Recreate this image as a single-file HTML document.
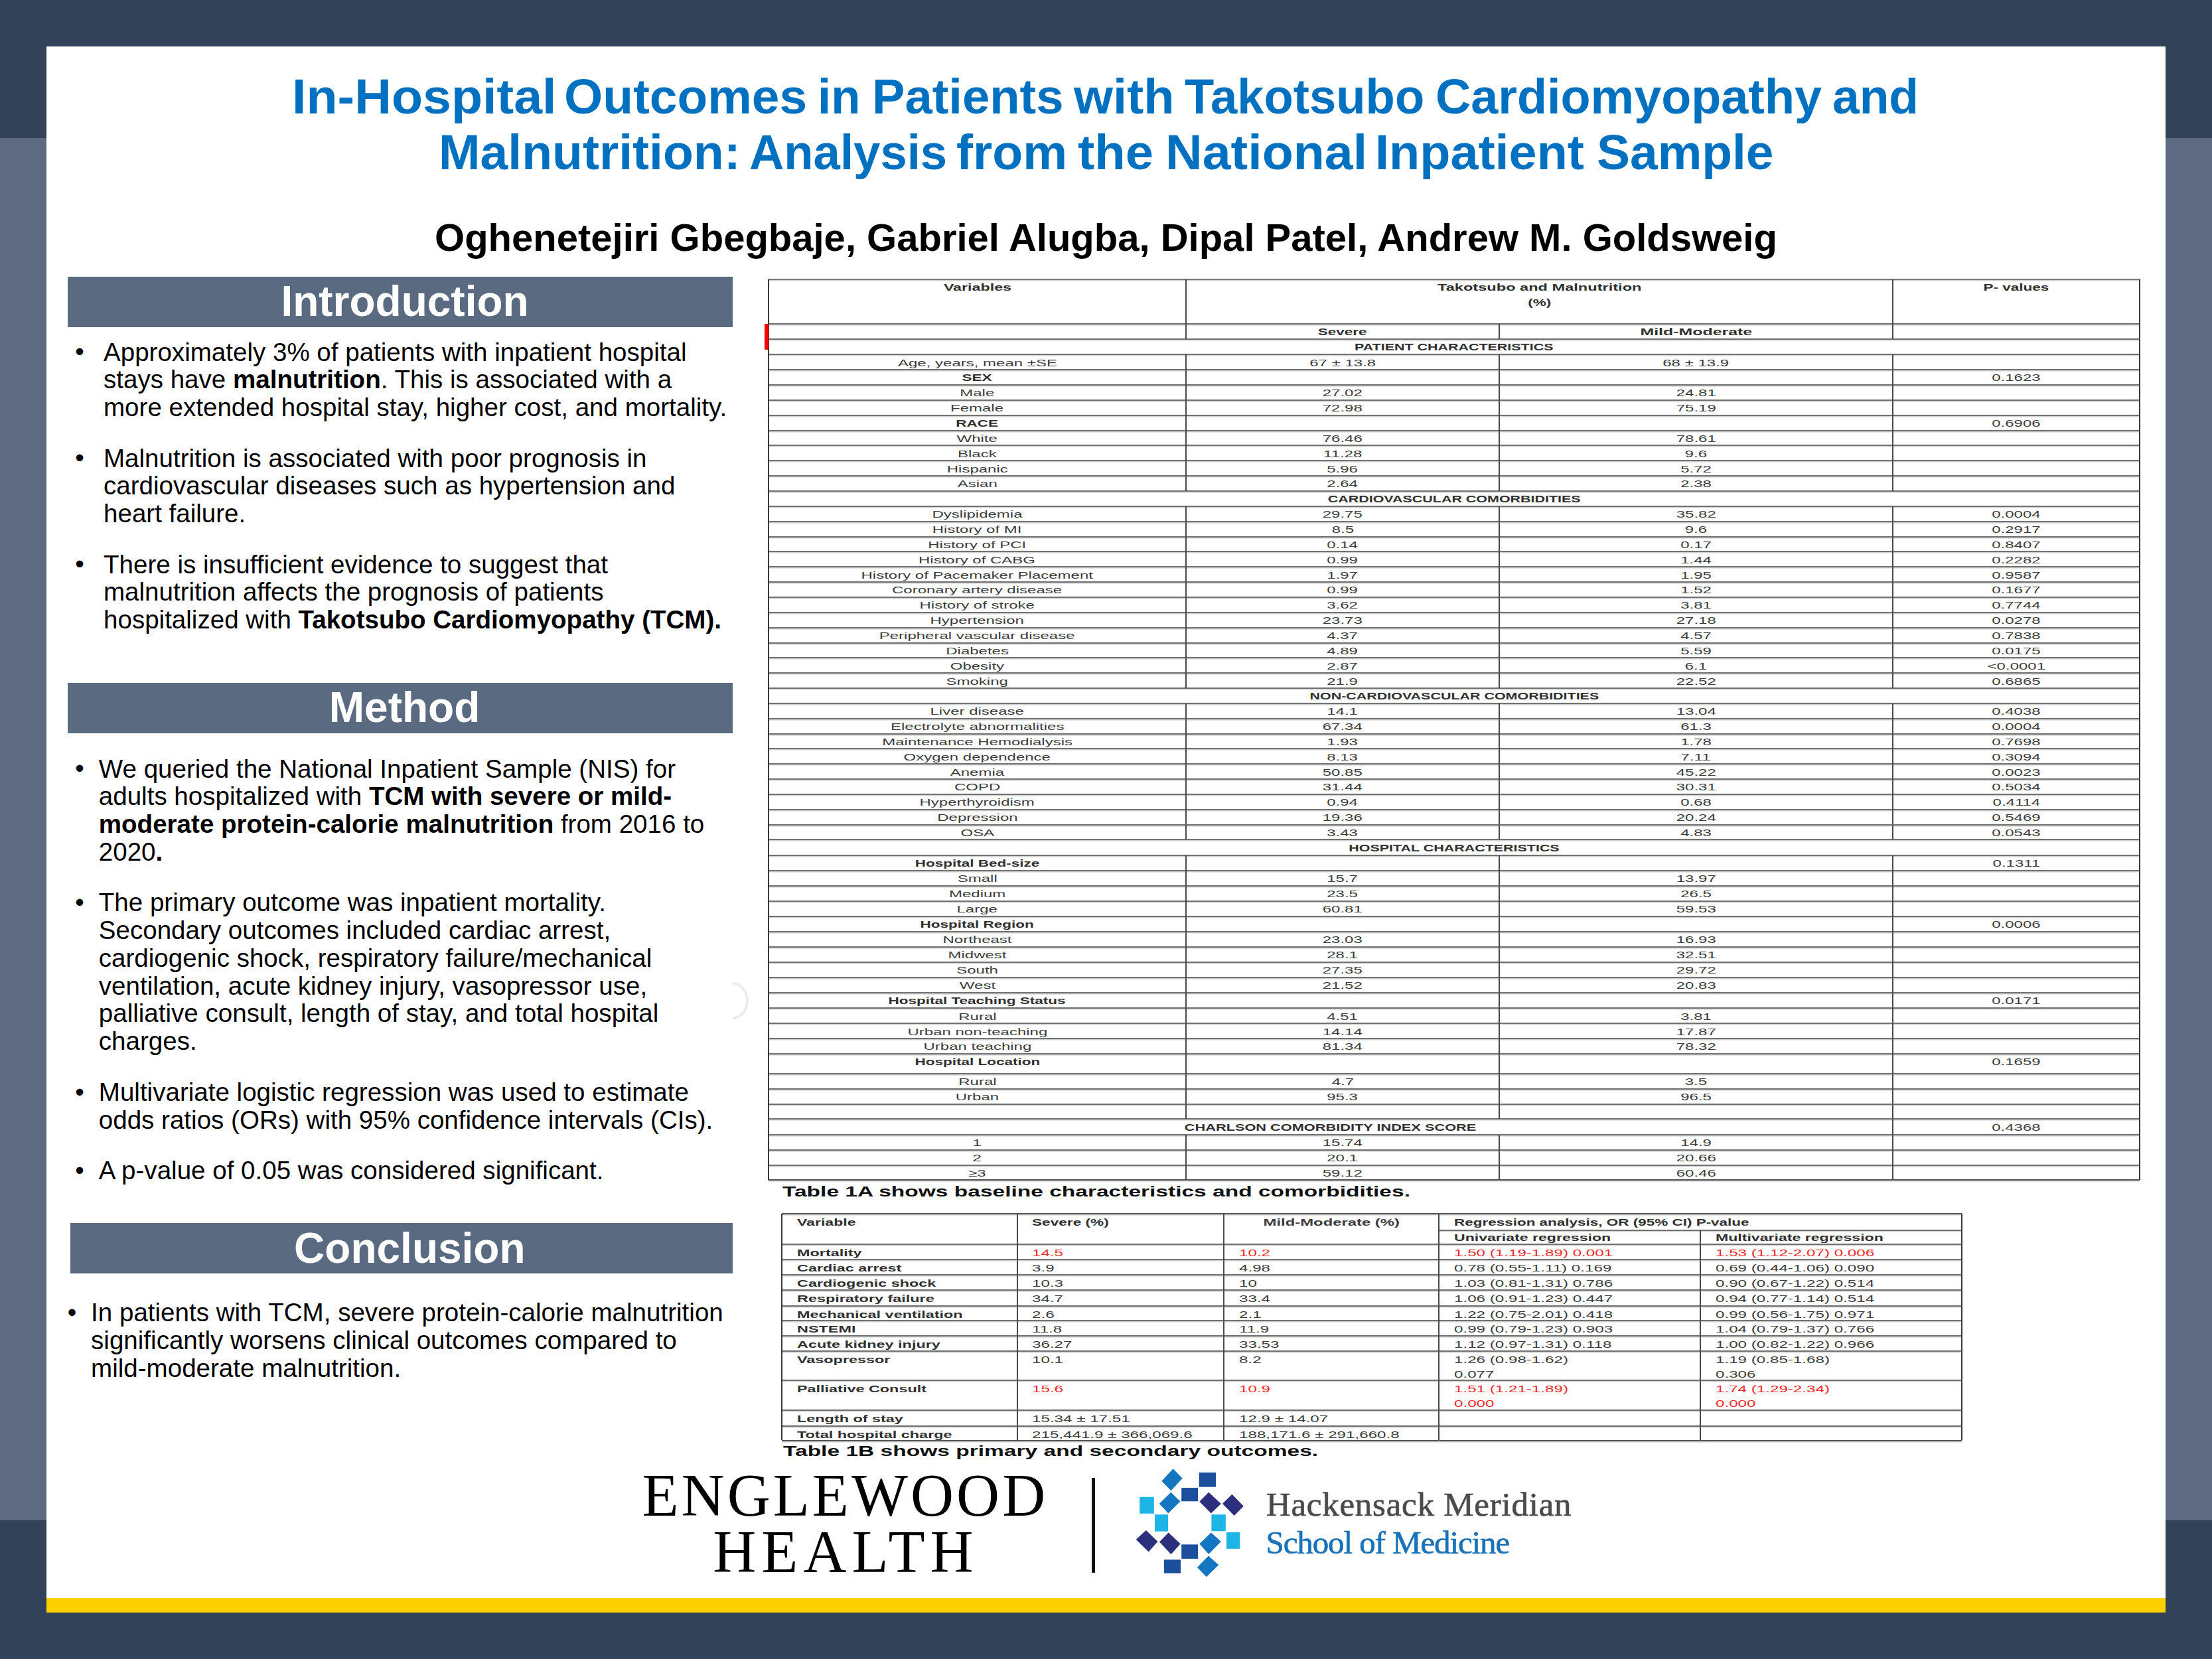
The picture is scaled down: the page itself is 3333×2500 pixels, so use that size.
<!DOCTYPE html><html><head><meta charset="utf-8"><title>Poster</title><style>
*{margin:0;padding:0;box-sizing:border-box}
html,body{width:3333px;height:2500px;overflow:hidden}
body{background:#324258;position:relative;font-family:"Liberation Sans",Arial,sans-serif;color:#000}
.a{position:absolute}
.t{position:absolute;white-space:nowrap}
.bar{position:absolute;background:#596a81}
.bh{position:absolute;white-space:nowrap;color:#fff;font-weight:700;font-size:63.5px;line-height:1}
.body{position:absolute;white-space:nowrap;font-size:38.55px;line-height:41.8px;color:#000}
.bul{position:absolute;font-size:38.4px;line-height:1;color:#000}
.tc{position:absolute;white-space:nowrap;font-size:15px;line-height:1;color:#3c3c3c}
.hl{position:absolute;background:#6a6a6a;height:2px}
.vl{position:absolute;background:#4a4a4a;width:2px}
</style></head><body>
<div class="a" style="left:0;top:208px;width:3333px;height:2083px;background:#5d6a82"></div>
<div class="a" style="left:70px;top:70px;width:3193px;height:2338px;background:#fff"></div>
<div class="a" style="left:70px;top:2408px;width:3193px;height:22px;background:#fdd000"></div>
<div class="t" style="left:440.4px;top:108.8px;font-size:73.5px;line-height:1;color:#0070c0;font-weight:700;transform-origin:0 0;transform:scaleX(1.0493)">In-Hospital</div>
<div class="t" style="left:849.6px;top:108.8px;font-size:73.5px;line-height:1;color:#0070c0;font-weight:700;transform-origin:0 0;transform:scaleX(1.0184)">Outcomes</div>
<div class="t" style="left:1231.9px;top:108.8px;font-size:73.5px;line-height:1;color:#0070c0;font-weight:700;transform-origin:0 0;transform:scaleX(0.9857)">in</div>
<div class="t" style="left:1313.9px;top:108.8px;font-size:73.5px;line-height:1;color:#0070c0;font-weight:700;transform-origin:0 0;transform:scaleX(1.0086)">Patients</div>
<div class="t" style="left:1618.3px;top:108.8px;font-size:73.5px;line-height:1;color:#0070c0;font-weight:700;transform-origin:0 0;transform:scaleX(1.0317)">with</div>
<div class="t" style="left:1784.9px;top:108.8px;font-size:73.5px;line-height:1;color:#0070c0;font-weight:700;transform-origin:0 0;transform:scaleX(0.9865)">Takotsubo</div>
<div class="t" style="left:2162.9px;top:108.8px;font-size:73.5px;line-height:1;color:#0070c0;font-weight:700;transform-origin:0 0;transform:scaleX(1.0035)">Cardiomyopathy</div>
<div class="t" style="left:2761.3px;top:108.8px;font-size:73.5px;line-height:1;color:#0070c0;font-weight:700;transform-origin:0 0;transform:scaleX(0.9952)">and</div>
<div class="t" style="left:660.6px;top:192.8px;font-size:73.5px;line-height:1;color:#0070c0;font-weight:700;transform-origin:0 0;transform:scaleX(1.0217)">Malnutrition:</div>
<div class="t" style="left:1129.2px;top:192.8px;font-size:73.5px;line-height:1;color:#0070c0;font-weight:700;transform-origin:0 0;transform:scaleX(0.9862)">Analysis</div>
<div class="t" style="left:1441.3px;top:192.8px;font-size:73.5px;line-height:1;color:#0070c0;font-weight:700;transform-origin:0 0;transform:scaleX(1.0234)">from</div>
<div class="t" style="left:1623.8px;top:192.8px;font-size:73.5px;line-height:1;color:#0070c0;font-weight:700;transform-origin:0 0;transform:scaleX(1.0346)">the</div>
<div class="t" style="left:1755.6px;top:192.8px;font-size:73.5px;line-height:1;color:#0070c0;font-weight:700;transform-origin:0 0;transform:scaleX(1.0489)">National</div>
<div class="t" style="left:2072.0px;top:192.8px;font-size:73.5px;line-height:1;color:#0070c0;font-weight:700;transform-origin:0 0;transform:scaleX(1.0287)">Inpatient</div>
<div class="t" style="left:2406.0px;top:192.8px;font-size:73.5px;line-height:1;color:#0070c0;font-weight:700;transform-origin:0 0;transform:scaleX(1.0195)">Sample</div>
<div class="t" style="left:-333.5px;width:4000px;text-align:center;top:329.4px;font-size:58px;line-height:1;font-weight:700;">Oghenetejiri Gbegbaje, Gabriel Alugba, Dipal Patel, Andrew M. Goldsweig</div>
<div class="bar" style="left:102px;top:417px;width:1002px;height:76px"></div>
<div class="t" style="left:-1390.0px;width:4000px;text-align:center;top:421.8px;font-size:64px;line-height:1;color:#fff;font-weight:700;">Introduction</div>
<div class="bar" style="left:102px;top:1028.5px;width:1002px;height:76.5px"></div>
<div class="t" style="left:-1390.5px;width:4000px;text-align:center;top:1033.6px;font-size:64px;line-height:1;color:#fff;font-weight:700;">Method</div>
<div class="bar" style="left:106px;top:1843.4px;width:998px;height:76.0px"></div>
<div class="t" style="left:-1382.7px;width:4000px;text-align:center;top:1848.6px;font-size:64px;line-height:1;color:#fff;font-weight:700;">Conclusion</div>
<div class="t" style="left:113.2px;top:511.4px;font-size:38.55px;line-height:1;">&#8226;</div>
<div class="body" style="left:156px;top:509.7px">Approximately 3% of patients with inpatient hospital<br>stays have <b>malnutrition</b>. This is associated with a<br>more extended hospital stay, higher cost, and mortality.</div>
<div class="t" style="left:113.2px;top:671.2px;font-size:38.55px;line-height:1;">&#8226;</div>
<div class="body" style="left:156px;top:669.5px">Malnutrition is associated with poor prognosis in<br>cardiovascular diseases such as hypertension and<br>heart failure.</div>
<div class="t" style="left:113.2px;top:831.2px;font-size:38.55px;line-height:1;">&#8226;</div>
<div class="body" style="left:156px;top:829.5px">There is insufficient evidence to suggest that<br>malnutrition affects the prognosis of patients<br>hospitalized with <b>Takotsubo Cardiomyopathy (TCM).</b></div>
<div class="t" style="left:113.2px;top:1139.2px;font-size:38.55px;line-height:1;">&#8226;</div>
<div class="body" style="left:148.8px;top:1137.5px">We queried the National Inpatient Sample (NIS) for<br>adults hospitalized with <b>TCM with severe or mild-</b><br><b>moderate protein-calorie malnutrition</b> from 2016 to<br>2020<b>.</b></div>
<div class="t" style="left:113.2px;top:1341.0px;font-size:38.55px;line-height:1;">&#8226;</div>
<div class="body" style="left:148.8px;top:1339.3px">The primary outcome was inpatient mortality.<br>Secondary outcomes included cardiac arrest,<br>cardiogenic shock, respiratory failure/mechanical<br>ventilation, acute kidney injury, vasopressor use,<br>palliative consult, length of stay, and total hospital<br>charges.</div>
<div class="t" style="left:113.2px;top:1626.6px;font-size:38.55px;line-height:1;">&#8226;</div>
<div class="body" style="left:148.8px;top:1624.9px">Multivariate logistic regression was used to estimate<br>odds ratios (ORs) with 95% confidence intervals (CIs).</div>
<div class="t" style="left:113.2px;top:1744.8px;font-size:38.55px;line-height:1;">&#8226;</div>
<div class="body" style="left:148.8px;top:1743.1px">A p-value of 0.05 was considered significant.</div>
<div class="t" style="left:101.8px;top:1958.9px;font-size:38.55px;line-height:1;">&#8226;</div>
<div class="body" style="left:137.1px;top:1957.2px">In patients with TCM, severe protein-calorie malnutrition<br>significantly worsens clinical outcomes compared to<br>mild-moderate malnutrition.</div>
<svg class="a" style="left:1095px;top:1475px" width="40" height="66" viewBox="0 0 40 66"><path d="M9 7 A 22 26 0 0 1 9 59" fill="none" stroke="#ebebeb" stroke-width="3.5"/></svg>
<div class="a" style="left:1158.0px;top:420.0px;width:2066.0px;height:2px;background:#7a7a7a;box-shadow:0 1.5px 0 #cfcfcf"></div>
<div class="a" style="left:1158.0px;top:487.0px;width:2066.0px;height:2px;background:#727272;box-shadow:0 1.5px 0 #cfcfcf"></div>
<div class="a" style="left:1158.0px;top:510.0px;width:2066.0px;height:2px;background:#727272;box-shadow:0 1.5px 0 #cfcfcf"></div>
<div class="a" style="left:1158.0px;top:533.0px;width:2066.0px;height:2px;background:#727272;box-shadow:0 1.5px 0 #cfcfcf"></div>
<div class="a" style="left:1158.0px;top:556.1px;width:2066.0px;height:2px;background:#727272;box-shadow:0 1.5px 0 #cfcfcf"></div>
<div class="a" style="left:1158.0px;top:579.0px;width:2066.0px;height:2px;background:#727272;box-shadow:0 1.5px 0 #cfcfcf"></div>
<div class="a" style="left:1158.0px;top:601.8px;width:2066.0px;height:2px;background:#727272;box-shadow:0 1.5px 0 #cfcfcf"></div>
<div class="a" style="left:1158.0px;top:624.7px;width:2066.0px;height:2px;background:#727272;box-shadow:0 1.5px 0 #cfcfcf"></div>
<div class="a" style="left:1158.0px;top:647.5px;width:2066.0px;height:2px;background:#727272;box-shadow:0 1.5px 0 #cfcfcf"></div>
<div class="a" style="left:1158.0px;top:670.4px;width:2066.0px;height:2px;background:#727272;box-shadow:0 1.5px 0 #cfcfcf"></div>
<div class="a" style="left:1158.0px;top:693.2px;width:2066.0px;height:2px;background:#727272;box-shadow:0 1.5px 0 #cfcfcf"></div>
<div class="a" style="left:1158.0px;top:716.1px;width:2066.0px;height:2px;background:#727272;box-shadow:0 1.5px 0 #cfcfcf"></div>
<div class="a" style="left:1158.0px;top:739.0px;width:2066.0px;height:2px;background:#727272;box-shadow:0 1.5px 0 #cfcfcf"></div>
<div class="a" style="left:1158.0px;top:761.8px;width:2066.0px;height:2px;background:#727272;box-shadow:0 1.5px 0 #cfcfcf"></div>
<div class="a" style="left:1158.0px;top:784.7px;width:2066.0px;height:2px;background:#727272;box-shadow:0 1.5px 0 #cfcfcf"></div>
<div class="a" style="left:1158.0px;top:807.5px;width:2066.0px;height:2px;background:#727272;box-shadow:0 1.5px 0 #cfcfcf"></div>
<div class="a" style="left:1158.0px;top:830.4px;width:2066.0px;height:2px;background:#727272;box-shadow:0 1.5px 0 #cfcfcf"></div>
<div class="a" style="left:1158.0px;top:853.2px;width:2066.0px;height:2px;background:#727272;box-shadow:0 1.5px 0 #cfcfcf"></div>
<div class="a" style="left:1158.0px;top:876.1px;width:2066.0px;height:2px;background:#727272;box-shadow:0 1.5px 0 #cfcfcf"></div>
<div class="a" style="left:1158.0px;top:899.0px;width:2066.0px;height:2px;background:#727272;box-shadow:0 1.5px 0 #cfcfcf"></div>
<div class="a" style="left:1158.0px;top:921.8px;width:2066.0px;height:2px;background:#727272;box-shadow:0 1.5px 0 #cfcfcf"></div>
<div class="a" style="left:1158.0px;top:944.7px;width:2066.0px;height:2px;background:#727272;box-shadow:0 1.5px 0 #cfcfcf"></div>
<div class="a" style="left:1158.0px;top:967.5px;width:2066.0px;height:2px;background:#727272;box-shadow:0 1.5px 0 #cfcfcf"></div>
<div class="a" style="left:1158.0px;top:990.4px;width:2066.0px;height:2px;background:#727272;box-shadow:0 1.5px 0 #cfcfcf"></div>
<div class="a" style="left:1158.0px;top:1013.2px;width:2066.0px;height:2px;background:#727272;box-shadow:0 1.5px 0 #cfcfcf"></div>
<div class="a" style="left:1158.0px;top:1036.1px;width:2066.0px;height:2px;background:#727272;box-shadow:0 1.5px 0 #cfcfcf"></div>
<div class="a" style="left:1158.0px;top:1058.9px;width:2066.0px;height:2px;background:#727272;box-shadow:0 1.5px 0 #cfcfcf"></div>
<div class="a" style="left:1158.0px;top:1081.8px;width:2066.0px;height:2px;background:#727272;box-shadow:0 1.5px 0 #cfcfcf"></div>
<div class="a" style="left:1158.0px;top:1104.6px;width:2066.0px;height:2px;background:#727272;box-shadow:0 1.5px 0 #cfcfcf"></div>
<div class="a" style="left:1158.0px;top:1127.4px;width:2066.0px;height:2px;background:#727272;box-shadow:0 1.5px 0 #cfcfcf"></div>
<div class="a" style="left:1158.0px;top:1150.2px;width:2066.0px;height:2px;background:#727272;box-shadow:0 1.5px 0 #cfcfcf"></div>
<div class="a" style="left:1158.0px;top:1173.1px;width:2066.0px;height:2px;background:#727272;box-shadow:0 1.5px 0 #cfcfcf"></div>
<div class="a" style="left:1158.0px;top:1195.9px;width:2066.0px;height:2px;background:#727272;box-shadow:0 1.5px 0 #cfcfcf"></div>
<div class="a" style="left:1158.0px;top:1218.7px;width:2066.0px;height:2px;background:#727272;box-shadow:0 1.5px 0 #cfcfcf"></div>
<div class="a" style="left:1158.0px;top:1241.6px;width:2066.0px;height:2px;background:#727272;box-shadow:0 1.5px 0 #cfcfcf"></div>
<div class="a" style="left:1158.0px;top:1264.4px;width:2066.0px;height:2px;background:#727272;box-shadow:0 1.5px 0 #cfcfcf"></div>
<div class="a" style="left:1158.0px;top:1287.5px;width:2066.0px;height:2px;background:#727272;box-shadow:0 1.5px 0 #cfcfcf"></div>
<div class="a" style="left:1158.0px;top:1310.5px;width:2066.0px;height:2px;background:#727272;box-shadow:0 1.5px 0 #cfcfcf"></div>
<div class="a" style="left:1158.0px;top:1333.6px;width:2066.0px;height:2px;background:#727272;box-shadow:0 1.5px 0 #cfcfcf"></div>
<div class="a" style="left:1158.0px;top:1356.6px;width:2066.0px;height:2px;background:#727272;box-shadow:0 1.5px 0 #cfcfcf"></div>
<div class="a" style="left:1158.0px;top:1379.7px;width:2066.0px;height:2px;background:#727272;box-shadow:0 1.5px 0 #cfcfcf"></div>
<div class="a" style="left:1158.0px;top:1402.8px;width:2066.0px;height:2px;background:#727272;box-shadow:0 1.5px 0 #cfcfcf"></div>
<div class="a" style="left:1158.0px;top:1425.8px;width:2066.0px;height:2px;background:#727272;box-shadow:0 1.5px 0 #cfcfcf"></div>
<div class="a" style="left:1158.0px;top:1448.9px;width:2066.0px;height:2px;background:#727272;box-shadow:0 1.5px 0 #cfcfcf"></div>
<div class="a" style="left:1158.0px;top:1471.9px;width:2066.0px;height:2px;background:#727272;box-shadow:0 1.5px 0 #cfcfcf"></div>
<div class="a" style="left:1158.0px;top:1495.0px;width:2066.0px;height:2px;background:#727272;box-shadow:0 1.5px 0 #cfcfcf"></div>
<div class="a" style="left:1158.0px;top:1518.0px;width:2066.0px;height:2px;background:#727272;box-shadow:0 1.5px 0 #cfcfcf"></div>
<div class="a" style="left:1158.0px;top:1541.1px;width:2066.0px;height:2px;background:#727272;box-shadow:0 1.5px 0 #cfcfcf"></div>
<div class="a" style="left:1158.0px;top:1564.0px;width:2066.0px;height:2px;background:#727272;box-shadow:0 1.5px 0 #cfcfcf"></div>
<div class="a" style="left:1158.0px;top:1586.9px;width:2066.0px;height:2px;background:#727272;box-shadow:0 1.5px 0 #cfcfcf"></div>
<div class="a" style="left:1158.0px;top:1616.7px;width:2066.0px;height:2px;background:#727272;box-shadow:0 1.5px 0 #cfcfcf"></div>
<div class="a" style="left:1158.0px;top:1639.6px;width:2066.0px;height:2px;background:#727272;box-shadow:0 1.5px 0 #cfcfcf"></div>
<div class="a" style="left:1158.0px;top:1662.5px;width:2066.0px;height:2px;background:#727272;box-shadow:0 1.5px 0 #cfcfcf"></div>
<div class="a" style="left:1158.0px;top:1685.4px;width:2066.0px;height:2px;background:#727272;box-shadow:0 1.5px 0 #cfcfcf"></div>
<div class="a" style="left:1158.0px;top:1708.7px;width:2066.0px;height:2px;background:#727272;box-shadow:0 1.5px 0 #cfcfcf"></div>
<div class="a" style="left:1158.0px;top:1731.6px;width:2066.0px;height:2px;background:#727272;box-shadow:0 1.5px 0 #cfcfcf"></div>
<div class="a" style="left:1158.0px;top:1755.0px;width:2066.0px;height:2px;background:#727272;box-shadow:0 1.5px 0 #cfcfcf"></div>
<div class="a" style="left:1158.0px;top:1777.4px;width:2066.0px;height:2px;background:#555;box-shadow:0 1.5px 0 #cfcfcf"></div>
<div class="tc" style="left:1072.5px;width:800px;text-align:center;top:425.4px;font-size:15px;font-weight:700;color:#303030;"><span style="display:inline-block;transform:scaleX(1.55)">Variables</span></div>
<div class="tc" style="left:1919.5px;width:800px;text-align:center;top:425.4px;font-size:15px;font-weight:700;color:#303030;"><span style="display:inline-block;transform:scaleX(1.572)">Takotsubo and Malnutrition</span></div>
<div class="tc" style="left:1919.5px;width:800px;text-align:center;top:448.3px;font-size:15px;font-weight:700;color:#303030;"><span style="display:inline-block;transform:scaleX(1.5)">(%)</span></div>
<div class="tc" style="left:2638.0px;width:800px;text-align:center;top:425.4px;font-size:15px;font-weight:700;color:#303030;"><span style="display:inline-block;transform:scaleX(1.5)">P- values</span></div>
<div class="a" style="left:1786.0px;top:421.0px;width:2px;height:67.0px;background:#4a4a4a"></div>
<div class="a" style="left:2851.0px;top:421.0px;width:2px;height:67.0px;background:#4a4a4a"></div>
<div class="a" style="left:1786.0px;top:488.0px;width:2px;height:23.0px;background:#4a4a4a"></div>
<div class="a" style="left:2258.0px;top:488.0px;width:2px;height:23.0px;background:#4a4a4a"></div>
<div class="a" style="left:2851.0px;top:488.0px;width:2px;height:23.0px;background:#4a4a4a"></div>
<div class="tc" style="left:1072.5px;width:800px;text-align:center;top:492.4px;font-size:15px;font-weight:700;color:#303030;"><span style="display:inline-block;transform:scaleX(1.5)"></span></div>
<div class="tc" style="left:1623.0px;width:800px;text-align:center;top:492.4px;font-size:15px;font-weight:700;color:#303030;"><span style="display:inline-block;transform:scaleX(1.5)">Severe</span></div>
<div class="tc" style="left:2155.5px;width:800px;text-align:center;top:492.4px;font-size:15px;font-weight:700;color:#303030;"><span style="display:inline-block;transform:scaleX(1.66)">Mild-Moderate</span></div>
<div class="tc" style="left:1791.0px;width:800px;text-align:center;top:515.4px;font-size:15px;font-weight:700;color:#303030;"><span style="display:inline-block;transform:scaleX(1.43)">PATIENT CHARACTERISTICS</span></div>
<div class="a" style="left:1786.0px;top:534.0px;width:2px;height:23.1px;background:#4a4a4a"></div>
<div class="a" style="left:2258.0px;top:534.0px;width:2px;height:23.1px;background:#4a4a4a"></div>
<div class="a" style="left:2851.0px;top:534.0px;width:2px;height:23.1px;background:#4a4a4a"></div>
<div class="tc" style="left:1072.5px;width:800px;text-align:center;top:538.5px;font-size:15px;"><span style="display:inline-block;transform:scaleX(1.6)">Age, years, mean &#177;SE</span></div>
<div class="tc" style="left:1623.0px;width:800px;text-align:center;top:538.5px;font-size:15px;"><span style="display:inline-block;transform:scaleX(1.6)">67 &#177; 13.8</span></div>
<div class="tc" style="left:2155.5px;width:800px;text-align:center;top:538.5px;font-size:15px;"><span style="display:inline-block;transform:scaleX(1.6)">68 &#177; 13.9</span></div>
<div class="a" style="left:1786.0px;top:557.1px;width:2px;height:22.9px;background:#4a4a4a"></div>
<div class="a" style="left:2258.0px;top:557.1px;width:2px;height:22.9px;background:#4a4a4a"></div>
<div class="a" style="left:2851.0px;top:557.1px;width:2px;height:22.9px;background:#4a4a4a"></div>
<div class="tc" style="left:1072.5px;width:800px;text-align:center;top:561.4px;font-size:15px;font-weight:700;color:#303030;"><span style="display:inline-block;transform:scaleX(1.5)">SEX</span></div>
<div class="tc" style="left:2638.0px;width:800px;text-align:center;top:561.4px;font-size:15px;"><span style="display:inline-block;transform:scaleX(1.6)">0.1623</span></div>
<div class="a" style="left:1786.0px;top:580.0px;width:2px;height:22.9px;background:#4a4a4a"></div>
<div class="a" style="left:2258.0px;top:580.0px;width:2px;height:22.9px;background:#4a4a4a"></div>
<div class="a" style="left:2851.0px;top:580.0px;width:2px;height:22.9px;background:#4a4a4a"></div>
<div class="tc" style="left:1072.5px;width:800px;text-align:center;top:584.3px;font-size:15px;"><span style="display:inline-block;transform:scaleX(1.6)">Male</span></div>
<div class="tc" style="left:1623.0px;width:800px;text-align:center;top:584.3px;font-size:15px;"><span style="display:inline-block;transform:scaleX(1.6)">27.02</span></div>
<div class="tc" style="left:2155.5px;width:800px;text-align:center;top:584.3px;font-size:15px;"><span style="display:inline-block;transform:scaleX(1.6)">24.81</span></div>
<div class="a" style="left:1786.0px;top:602.8px;width:2px;height:22.9px;background:#4a4a4a"></div>
<div class="a" style="left:2258.0px;top:602.8px;width:2px;height:22.9px;background:#4a4a4a"></div>
<div class="a" style="left:2851.0px;top:602.8px;width:2px;height:22.9px;background:#4a4a4a"></div>
<div class="tc" style="left:1072.5px;width:800px;text-align:center;top:607.1px;font-size:15px;"><span style="display:inline-block;transform:scaleX(1.6)">Female</span></div>
<div class="tc" style="left:1623.0px;width:800px;text-align:center;top:607.1px;font-size:15px;"><span style="display:inline-block;transform:scaleX(1.6)">72.98</span></div>
<div class="tc" style="left:2155.5px;width:800px;text-align:center;top:607.1px;font-size:15px;"><span style="display:inline-block;transform:scaleX(1.6)">75.19</span></div>
<div class="a" style="left:1786.0px;top:625.7px;width:2px;height:22.9px;background:#4a4a4a"></div>
<div class="a" style="left:2258.0px;top:625.7px;width:2px;height:22.9px;background:#4a4a4a"></div>
<div class="a" style="left:2851.0px;top:625.7px;width:2px;height:22.9px;background:#4a4a4a"></div>
<div class="tc" style="left:1072.5px;width:800px;text-align:center;top:630.0px;font-size:15px;font-weight:700;color:#303030;"><span style="display:inline-block;transform:scaleX(1.5)">RACE</span></div>
<div class="tc" style="left:2638.0px;width:800px;text-align:center;top:630.0px;font-size:15px;"><span style="display:inline-block;transform:scaleX(1.6)">0.6906</span></div>
<div class="a" style="left:1786.0px;top:648.5px;width:2px;height:22.9px;background:#4a4a4a"></div>
<div class="a" style="left:2258.0px;top:648.5px;width:2px;height:22.9px;background:#4a4a4a"></div>
<div class="a" style="left:2851.0px;top:648.5px;width:2px;height:22.9px;background:#4a4a4a"></div>
<div class="tc" style="left:1072.5px;width:800px;text-align:center;top:652.9px;font-size:15px;"><span style="display:inline-block;transform:scaleX(1.6)">White</span></div>
<div class="tc" style="left:1623.0px;width:800px;text-align:center;top:652.9px;font-size:15px;"><span style="display:inline-block;transform:scaleX(1.6)">76.46</span></div>
<div class="tc" style="left:2155.5px;width:800px;text-align:center;top:652.9px;font-size:15px;"><span style="display:inline-block;transform:scaleX(1.6)">78.61</span></div>
<div class="a" style="left:1786.0px;top:671.4px;width:2px;height:22.9px;background:#4a4a4a"></div>
<div class="a" style="left:2258.0px;top:671.4px;width:2px;height:22.9px;background:#4a4a4a"></div>
<div class="a" style="left:2851.0px;top:671.4px;width:2px;height:22.9px;background:#4a4a4a"></div>
<div class="tc" style="left:1072.5px;width:800px;text-align:center;top:675.7px;font-size:15px;"><span style="display:inline-block;transform:scaleX(1.6)">Black</span></div>
<div class="tc" style="left:1623.0px;width:800px;text-align:center;top:675.7px;font-size:15px;"><span style="display:inline-block;transform:scaleX(1.6)">11.28</span></div>
<div class="tc" style="left:2155.5px;width:800px;text-align:center;top:675.7px;font-size:15px;"><span style="display:inline-block;transform:scaleX(1.6)">9.6</span></div>
<div class="a" style="left:1786.0px;top:694.2px;width:2px;height:22.9px;background:#4a4a4a"></div>
<div class="a" style="left:2258.0px;top:694.2px;width:2px;height:22.9px;background:#4a4a4a"></div>
<div class="a" style="left:2851.0px;top:694.2px;width:2px;height:22.9px;background:#4a4a4a"></div>
<div class="tc" style="left:1072.5px;width:800px;text-align:center;top:698.6px;font-size:15px;"><span style="display:inline-block;transform:scaleX(1.6)">Hispanic</span></div>
<div class="tc" style="left:1623.0px;width:800px;text-align:center;top:698.6px;font-size:15px;"><span style="display:inline-block;transform:scaleX(1.6)">5.96</span></div>
<div class="tc" style="left:2155.5px;width:800px;text-align:center;top:698.6px;font-size:15px;"><span style="display:inline-block;transform:scaleX(1.6)">5.72</span></div>
<div class="a" style="left:1786.0px;top:717.1px;width:2px;height:22.9px;background:#4a4a4a"></div>
<div class="a" style="left:2258.0px;top:717.1px;width:2px;height:22.9px;background:#4a4a4a"></div>
<div class="a" style="left:2851.0px;top:717.1px;width:2px;height:22.9px;background:#4a4a4a"></div>
<div class="tc" style="left:1072.5px;width:800px;text-align:center;top:721.4px;font-size:15px;"><span style="display:inline-block;transform:scaleX(1.6)">Asian</span></div>
<div class="tc" style="left:1623.0px;width:800px;text-align:center;top:721.4px;font-size:15px;"><span style="display:inline-block;transform:scaleX(1.6)">2.64</span></div>
<div class="tc" style="left:2155.5px;width:800px;text-align:center;top:721.4px;font-size:15px;"><span style="display:inline-block;transform:scaleX(1.6)">2.38</span></div>
<div class="tc" style="left:1791.0px;width:800px;text-align:center;top:744.3px;font-size:15px;font-weight:700;color:#303030;"><span style="display:inline-block;transform:scaleX(1.43)">CARDIOVASCULAR COMORBIDITIES</span></div>
<div class="a" style="left:1786.0px;top:762.8px;width:2px;height:22.9px;background:#4a4a4a"></div>
<div class="a" style="left:2258.0px;top:762.8px;width:2px;height:22.9px;background:#4a4a4a"></div>
<div class="a" style="left:2851.0px;top:762.8px;width:2px;height:22.9px;background:#4a4a4a"></div>
<div class="tc" style="left:1072.5px;width:800px;text-align:center;top:767.1px;font-size:15px;"><span style="display:inline-block;transform:scaleX(1.6)">Dyslipidemia</span></div>
<div class="tc" style="left:1623.0px;width:800px;text-align:center;top:767.1px;font-size:15px;"><span style="display:inline-block;transform:scaleX(1.6)">29.75</span></div>
<div class="tc" style="left:2155.5px;width:800px;text-align:center;top:767.1px;font-size:15px;"><span style="display:inline-block;transform:scaleX(1.6)">35.82</span></div>
<div class="tc" style="left:2638.0px;width:800px;text-align:center;top:767.1px;font-size:15px;"><span style="display:inline-block;transform:scaleX(1.6)">0.0004</span></div>
<div class="a" style="left:1786.0px;top:785.7px;width:2px;height:22.9px;background:#4a4a4a"></div>
<div class="a" style="left:2258.0px;top:785.7px;width:2px;height:22.9px;background:#4a4a4a"></div>
<div class="a" style="left:2851.0px;top:785.7px;width:2px;height:22.9px;background:#4a4a4a"></div>
<div class="tc" style="left:1072.5px;width:800px;text-align:center;top:790.0px;font-size:15px;"><span style="display:inline-block;transform:scaleX(1.6)">History of MI</span></div>
<div class="tc" style="left:1623.0px;width:800px;text-align:center;top:790.0px;font-size:15px;"><span style="display:inline-block;transform:scaleX(1.6)">8.5</span></div>
<div class="tc" style="left:2155.5px;width:800px;text-align:center;top:790.0px;font-size:15px;"><span style="display:inline-block;transform:scaleX(1.6)">9.6</span></div>
<div class="tc" style="left:2638.0px;width:800px;text-align:center;top:790.0px;font-size:15px;"><span style="display:inline-block;transform:scaleX(1.6)">0.2917</span></div>
<div class="a" style="left:1786.0px;top:808.5px;width:2px;height:22.9px;background:#4a4a4a"></div>
<div class="a" style="left:2258.0px;top:808.5px;width:2px;height:22.9px;background:#4a4a4a"></div>
<div class="a" style="left:2851.0px;top:808.5px;width:2px;height:22.9px;background:#4a4a4a"></div>
<div class="tc" style="left:1072.5px;width:800px;text-align:center;top:812.9px;font-size:15px;"><span style="display:inline-block;transform:scaleX(1.6)">History of PCI</span></div>
<div class="tc" style="left:1623.0px;width:800px;text-align:center;top:812.9px;font-size:15px;"><span style="display:inline-block;transform:scaleX(1.6)">0.14</span></div>
<div class="tc" style="left:2155.5px;width:800px;text-align:center;top:812.9px;font-size:15px;"><span style="display:inline-block;transform:scaleX(1.6)">0.17</span></div>
<div class="tc" style="left:2638.0px;width:800px;text-align:center;top:812.9px;font-size:15px;"><span style="display:inline-block;transform:scaleX(1.6)">0.8407</span></div>
<div class="a" style="left:1786.0px;top:831.4px;width:2px;height:22.9px;background:#4a4a4a"></div>
<div class="a" style="left:2258.0px;top:831.4px;width:2px;height:22.9px;background:#4a4a4a"></div>
<div class="a" style="left:2851.0px;top:831.4px;width:2px;height:22.9px;background:#4a4a4a"></div>
<div class="tc" style="left:1072.5px;width:800px;text-align:center;top:835.7px;font-size:15px;"><span style="display:inline-block;transform:scaleX(1.6)">History of CABG</span></div>
<div class="tc" style="left:1623.0px;width:800px;text-align:center;top:835.7px;font-size:15px;"><span style="display:inline-block;transform:scaleX(1.6)">0.99</span></div>
<div class="tc" style="left:2155.5px;width:800px;text-align:center;top:835.7px;font-size:15px;"><span style="display:inline-block;transform:scaleX(1.6)">1.44</span></div>
<div class="tc" style="left:2638.0px;width:800px;text-align:center;top:835.7px;font-size:15px;"><span style="display:inline-block;transform:scaleX(1.6)">0.2282</span></div>
<div class="a" style="left:1786.0px;top:854.2px;width:2px;height:22.9px;background:#4a4a4a"></div>
<div class="a" style="left:2258.0px;top:854.2px;width:2px;height:22.9px;background:#4a4a4a"></div>
<div class="a" style="left:2851.0px;top:854.2px;width:2px;height:22.9px;background:#4a4a4a"></div>
<div class="tc" style="left:1072.5px;width:800px;text-align:center;top:858.6px;font-size:15px;"><span style="display:inline-block;transform:scaleX(1.6)">History of Pacemaker Placement</span></div>
<div class="tc" style="left:1623.0px;width:800px;text-align:center;top:858.6px;font-size:15px;"><span style="display:inline-block;transform:scaleX(1.6)">1.97</span></div>
<div class="tc" style="left:2155.5px;width:800px;text-align:center;top:858.6px;font-size:15px;"><span style="display:inline-block;transform:scaleX(1.6)">1.95</span></div>
<div class="tc" style="left:2638.0px;width:800px;text-align:center;top:858.6px;font-size:15px;"><span style="display:inline-block;transform:scaleX(1.6)">0.9587</span></div>
<div class="a" style="left:1786.0px;top:877.1px;width:2px;height:22.9px;background:#4a4a4a"></div>
<div class="a" style="left:2258.0px;top:877.1px;width:2px;height:22.9px;background:#4a4a4a"></div>
<div class="a" style="left:2851.0px;top:877.1px;width:2px;height:22.9px;background:#4a4a4a"></div>
<div class="tc" style="left:1072.5px;width:800px;text-align:center;top:881.4px;font-size:15px;"><span style="display:inline-block;transform:scaleX(1.6)">Coronary artery disease</span></div>
<div class="tc" style="left:1623.0px;width:800px;text-align:center;top:881.4px;font-size:15px;"><span style="display:inline-block;transform:scaleX(1.6)">0.99</span></div>
<div class="tc" style="left:2155.5px;width:800px;text-align:center;top:881.4px;font-size:15px;"><span style="display:inline-block;transform:scaleX(1.6)">1.52</span></div>
<div class="tc" style="left:2638.0px;width:800px;text-align:center;top:881.4px;font-size:15px;"><span style="display:inline-block;transform:scaleX(1.6)">0.1677</span></div>
<div class="a" style="left:1786.0px;top:900.0px;width:2px;height:22.9px;background:#4a4a4a"></div>
<div class="a" style="left:2258.0px;top:900.0px;width:2px;height:22.9px;background:#4a4a4a"></div>
<div class="a" style="left:2851.0px;top:900.0px;width:2px;height:22.9px;background:#4a4a4a"></div>
<div class="tc" style="left:1072.5px;width:800px;text-align:center;top:904.3px;font-size:15px;"><span style="display:inline-block;transform:scaleX(1.6)">History of stroke</span></div>
<div class="tc" style="left:1623.0px;width:800px;text-align:center;top:904.3px;font-size:15px;"><span style="display:inline-block;transform:scaleX(1.6)">3.62</span></div>
<div class="tc" style="left:2155.5px;width:800px;text-align:center;top:904.3px;font-size:15px;"><span style="display:inline-block;transform:scaleX(1.6)">3.81</span></div>
<div class="tc" style="left:2638.0px;width:800px;text-align:center;top:904.3px;font-size:15px;"><span style="display:inline-block;transform:scaleX(1.6)">0.7744</span></div>
<div class="a" style="left:1786.0px;top:922.8px;width:2px;height:22.9px;background:#4a4a4a"></div>
<div class="a" style="left:2258.0px;top:922.8px;width:2px;height:22.9px;background:#4a4a4a"></div>
<div class="a" style="left:2851.0px;top:922.8px;width:2px;height:22.9px;background:#4a4a4a"></div>
<div class="tc" style="left:1072.5px;width:800px;text-align:center;top:927.1px;font-size:15px;"><span style="display:inline-block;transform:scaleX(1.6)">Hypertension</span></div>
<div class="tc" style="left:1623.0px;width:800px;text-align:center;top:927.1px;font-size:15px;"><span style="display:inline-block;transform:scaleX(1.6)">23.73</span></div>
<div class="tc" style="left:2155.5px;width:800px;text-align:center;top:927.1px;font-size:15px;"><span style="display:inline-block;transform:scaleX(1.6)">27.18</span></div>
<div class="tc" style="left:2638.0px;width:800px;text-align:center;top:927.1px;font-size:15px;"><span style="display:inline-block;transform:scaleX(1.6)">0.0278</span></div>
<div class="a" style="left:1786.0px;top:945.7px;width:2px;height:22.9px;background:#4a4a4a"></div>
<div class="a" style="left:2258.0px;top:945.7px;width:2px;height:22.9px;background:#4a4a4a"></div>
<div class="a" style="left:2851.0px;top:945.7px;width:2px;height:22.9px;background:#4a4a4a"></div>
<div class="tc" style="left:1072.5px;width:800px;text-align:center;top:950.0px;font-size:15px;"><span style="display:inline-block;transform:scaleX(1.6)">Peripheral vascular disease</span></div>
<div class="tc" style="left:1623.0px;width:800px;text-align:center;top:950.0px;font-size:15px;"><span style="display:inline-block;transform:scaleX(1.6)">4.37</span></div>
<div class="tc" style="left:2155.5px;width:800px;text-align:center;top:950.0px;font-size:15px;"><span style="display:inline-block;transform:scaleX(1.6)">4.57</span></div>
<div class="tc" style="left:2638.0px;width:800px;text-align:center;top:950.0px;font-size:15px;"><span style="display:inline-block;transform:scaleX(1.6)">0.7838</span></div>
<div class="a" style="left:1786.0px;top:968.5px;width:2px;height:22.9px;background:#4a4a4a"></div>
<div class="a" style="left:2258.0px;top:968.5px;width:2px;height:22.9px;background:#4a4a4a"></div>
<div class="a" style="left:2851.0px;top:968.5px;width:2px;height:22.9px;background:#4a4a4a"></div>
<div class="tc" style="left:1072.5px;width:800px;text-align:center;top:972.9px;font-size:15px;"><span style="display:inline-block;transform:scaleX(1.6)">Diabetes</span></div>
<div class="tc" style="left:1623.0px;width:800px;text-align:center;top:972.9px;font-size:15px;"><span style="display:inline-block;transform:scaleX(1.6)">4.89</span></div>
<div class="tc" style="left:2155.5px;width:800px;text-align:center;top:972.9px;font-size:15px;"><span style="display:inline-block;transform:scaleX(1.6)">5.59</span></div>
<div class="tc" style="left:2638.0px;width:800px;text-align:center;top:972.9px;font-size:15px;"><span style="display:inline-block;transform:scaleX(1.6)">0.0175</span></div>
<div class="a" style="left:1786.0px;top:991.4px;width:2px;height:22.9px;background:#4a4a4a"></div>
<div class="a" style="left:2258.0px;top:991.4px;width:2px;height:22.9px;background:#4a4a4a"></div>
<div class="a" style="left:2851.0px;top:991.4px;width:2px;height:22.9px;background:#4a4a4a"></div>
<div class="tc" style="left:1072.5px;width:800px;text-align:center;top:995.7px;font-size:15px;"><span style="display:inline-block;transform:scaleX(1.6)">Obesity</span></div>
<div class="tc" style="left:1623.0px;width:800px;text-align:center;top:995.7px;font-size:15px;"><span style="display:inline-block;transform:scaleX(1.6)">2.87</span></div>
<div class="tc" style="left:2155.5px;width:800px;text-align:center;top:995.7px;font-size:15px;"><span style="display:inline-block;transform:scaleX(1.6)">6.1</span></div>
<div class="tc" style="left:2638.0px;width:800px;text-align:center;top:995.7px;font-size:15px;"><span style="display:inline-block;transform:scaleX(1.6)">&lt;0.0001</span></div>
<div class="a" style="left:1786.0px;top:1014.2px;width:2px;height:22.9px;background:#4a4a4a"></div>
<div class="a" style="left:2258.0px;top:1014.2px;width:2px;height:22.9px;background:#4a4a4a"></div>
<div class="a" style="left:2851.0px;top:1014.2px;width:2px;height:22.9px;background:#4a4a4a"></div>
<div class="tc" style="left:1072.5px;width:800px;text-align:center;top:1018.6px;font-size:15px;"><span style="display:inline-block;transform:scaleX(1.6)">Smoking</span></div>
<div class="tc" style="left:1623.0px;width:800px;text-align:center;top:1018.6px;font-size:15px;"><span style="display:inline-block;transform:scaleX(1.6)">21.9</span></div>
<div class="tc" style="left:2155.5px;width:800px;text-align:center;top:1018.6px;font-size:15px;"><span style="display:inline-block;transform:scaleX(1.6)">22.52</span></div>
<div class="tc" style="left:2638.0px;width:800px;text-align:center;top:1018.6px;font-size:15px;"><span style="display:inline-block;transform:scaleX(1.6)">0.6865</span></div>
<div class="tc" style="left:1791.0px;width:800px;text-align:center;top:1041.4px;font-size:15px;font-weight:700;color:#303030;"><span style="display:inline-block;transform:scaleX(1.43)">NON-CARDIOVASCULAR COMORBIDITIES</span></div>
<div class="a" style="left:1786.0px;top:1059.9px;width:2px;height:22.8px;background:#4a4a4a"></div>
<div class="a" style="left:2258.0px;top:1059.9px;width:2px;height:22.8px;background:#4a4a4a"></div>
<div class="a" style="left:2851.0px;top:1059.9px;width:2px;height:22.8px;background:#4a4a4a"></div>
<div class="tc" style="left:1072.5px;width:800px;text-align:center;top:1064.2px;font-size:15px;"><span style="display:inline-block;transform:scaleX(1.6)">Liver disease</span></div>
<div class="tc" style="left:1623.0px;width:800px;text-align:center;top:1064.2px;font-size:15px;"><span style="display:inline-block;transform:scaleX(1.6)">14.1</span></div>
<div class="tc" style="left:2155.5px;width:800px;text-align:center;top:1064.2px;font-size:15px;"><span style="display:inline-block;transform:scaleX(1.6)">13.04</span></div>
<div class="tc" style="left:2638.0px;width:800px;text-align:center;top:1064.2px;font-size:15px;"><span style="display:inline-block;transform:scaleX(1.6)">0.4038</span></div>
<div class="a" style="left:1786.0px;top:1082.8px;width:2px;height:22.8px;background:#4a4a4a"></div>
<div class="a" style="left:2258.0px;top:1082.8px;width:2px;height:22.8px;background:#4a4a4a"></div>
<div class="a" style="left:2851.0px;top:1082.8px;width:2px;height:22.8px;background:#4a4a4a"></div>
<div class="tc" style="left:1072.5px;width:800px;text-align:center;top:1087.1px;font-size:15px;"><span style="display:inline-block;transform:scaleX(1.6)">Electrolyte abnormalities</span></div>
<div class="tc" style="left:1623.0px;width:800px;text-align:center;top:1087.1px;font-size:15px;"><span style="display:inline-block;transform:scaleX(1.6)">67.34</span></div>
<div class="tc" style="left:2155.5px;width:800px;text-align:center;top:1087.1px;font-size:15px;"><span style="display:inline-block;transform:scaleX(1.6)">61.3</span></div>
<div class="tc" style="left:2638.0px;width:800px;text-align:center;top:1087.1px;font-size:15px;"><span style="display:inline-block;transform:scaleX(1.6)">0.0004</span></div>
<div class="a" style="left:1786.0px;top:1105.6px;width:2px;height:22.8px;background:#4a4a4a"></div>
<div class="a" style="left:2258.0px;top:1105.6px;width:2px;height:22.8px;background:#4a4a4a"></div>
<div class="a" style="left:2851.0px;top:1105.6px;width:2px;height:22.8px;background:#4a4a4a"></div>
<div class="tc" style="left:1072.5px;width:800px;text-align:center;top:1109.9px;font-size:15px;"><span style="display:inline-block;transform:scaleX(1.6)">Maintenance Hemodialysis</span></div>
<div class="tc" style="left:1623.0px;width:800px;text-align:center;top:1109.9px;font-size:15px;"><span style="display:inline-block;transform:scaleX(1.6)">1.93</span></div>
<div class="tc" style="left:2155.5px;width:800px;text-align:center;top:1109.9px;font-size:15px;"><span style="display:inline-block;transform:scaleX(1.6)">1.78</span></div>
<div class="tc" style="left:2638.0px;width:800px;text-align:center;top:1109.9px;font-size:15px;"><span style="display:inline-block;transform:scaleX(1.6)">0.7698</span></div>
<div class="a" style="left:1786.0px;top:1128.4px;width:2px;height:22.8px;background:#4a4a4a"></div>
<div class="a" style="left:2258.0px;top:1128.4px;width:2px;height:22.8px;background:#4a4a4a"></div>
<div class="a" style="left:2851.0px;top:1128.4px;width:2px;height:22.8px;background:#4a4a4a"></div>
<div class="tc" style="left:1072.5px;width:800px;text-align:center;top:1132.7px;font-size:15px;"><span style="display:inline-block;transform:scaleX(1.6)">Oxygen dependence</span></div>
<div class="tc" style="left:1623.0px;width:800px;text-align:center;top:1132.7px;font-size:15px;"><span style="display:inline-block;transform:scaleX(1.6)">8.13</span></div>
<div class="tc" style="left:2155.5px;width:800px;text-align:center;top:1132.7px;font-size:15px;"><span style="display:inline-block;transform:scaleX(1.6)">7.11</span></div>
<div class="tc" style="left:2638.0px;width:800px;text-align:center;top:1132.7px;font-size:15px;"><span style="display:inline-block;transform:scaleX(1.6)">0.3094</span></div>
<div class="a" style="left:1786.0px;top:1151.2px;width:2px;height:22.8px;background:#4a4a4a"></div>
<div class="a" style="left:2258.0px;top:1151.2px;width:2px;height:22.8px;background:#4a4a4a"></div>
<div class="a" style="left:2851.0px;top:1151.2px;width:2px;height:22.8px;background:#4a4a4a"></div>
<div class="tc" style="left:1072.5px;width:800px;text-align:center;top:1155.6px;font-size:15px;"><span style="display:inline-block;transform:scaleX(1.6)">Anemia</span></div>
<div class="tc" style="left:1623.0px;width:800px;text-align:center;top:1155.6px;font-size:15px;"><span style="display:inline-block;transform:scaleX(1.6)">50.85</span></div>
<div class="tc" style="left:2155.5px;width:800px;text-align:center;top:1155.6px;font-size:15px;"><span style="display:inline-block;transform:scaleX(1.6)">45.22</span></div>
<div class="tc" style="left:2638.0px;width:800px;text-align:center;top:1155.6px;font-size:15px;"><span style="display:inline-block;transform:scaleX(1.6)">0.0023</span></div>
<div class="a" style="left:1786.0px;top:1174.1px;width:2px;height:22.8px;background:#4a4a4a"></div>
<div class="a" style="left:2258.0px;top:1174.1px;width:2px;height:22.8px;background:#4a4a4a"></div>
<div class="a" style="left:2851.0px;top:1174.1px;width:2px;height:22.8px;background:#4a4a4a"></div>
<div class="tc" style="left:1072.5px;width:800px;text-align:center;top:1178.4px;font-size:15px;"><span style="display:inline-block;transform:scaleX(1.6)">COPD</span></div>
<div class="tc" style="left:1623.0px;width:800px;text-align:center;top:1178.4px;font-size:15px;"><span style="display:inline-block;transform:scaleX(1.6)">31.44</span></div>
<div class="tc" style="left:2155.5px;width:800px;text-align:center;top:1178.4px;font-size:15px;"><span style="display:inline-block;transform:scaleX(1.6)">30.31</span></div>
<div class="tc" style="left:2638.0px;width:800px;text-align:center;top:1178.4px;font-size:15px;"><span style="display:inline-block;transform:scaleX(1.6)">0.5034</span></div>
<div class="a" style="left:1786.0px;top:1196.9px;width:2px;height:22.8px;background:#4a4a4a"></div>
<div class="a" style="left:2258.0px;top:1196.9px;width:2px;height:22.8px;background:#4a4a4a"></div>
<div class="a" style="left:2851.0px;top:1196.9px;width:2px;height:22.8px;background:#4a4a4a"></div>
<div class="tc" style="left:1072.5px;width:800px;text-align:center;top:1201.2px;font-size:15px;"><span style="display:inline-block;transform:scaleX(1.6)">Hyperthyroidism</span></div>
<div class="tc" style="left:1623.0px;width:800px;text-align:center;top:1201.2px;font-size:15px;"><span style="display:inline-block;transform:scaleX(1.6)">0.94</span></div>
<div class="tc" style="left:2155.5px;width:800px;text-align:center;top:1201.2px;font-size:15px;"><span style="display:inline-block;transform:scaleX(1.6)">0.68</span></div>
<div class="tc" style="left:2638.0px;width:800px;text-align:center;top:1201.2px;font-size:15px;"><span style="display:inline-block;transform:scaleX(1.6)">0.4114</span></div>
<div class="a" style="left:1786.0px;top:1219.7px;width:2px;height:22.8px;background:#4a4a4a"></div>
<div class="a" style="left:2258.0px;top:1219.7px;width:2px;height:22.8px;background:#4a4a4a"></div>
<div class="a" style="left:2851.0px;top:1219.7px;width:2px;height:22.8px;background:#4a4a4a"></div>
<div class="tc" style="left:1072.5px;width:800px;text-align:center;top:1224.1px;font-size:15px;"><span style="display:inline-block;transform:scaleX(1.6)">Depression</span></div>
<div class="tc" style="left:1623.0px;width:800px;text-align:center;top:1224.1px;font-size:15px;"><span style="display:inline-block;transform:scaleX(1.6)">19.36</span></div>
<div class="tc" style="left:2155.5px;width:800px;text-align:center;top:1224.1px;font-size:15px;"><span style="display:inline-block;transform:scaleX(1.6)">20.24</span></div>
<div class="tc" style="left:2638.0px;width:800px;text-align:center;top:1224.1px;font-size:15px;"><span style="display:inline-block;transform:scaleX(1.6)">0.5469</span></div>
<div class="a" style="left:1786.0px;top:1242.6px;width:2px;height:22.8px;background:#4a4a4a"></div>
<div class="a" style="left:2258.0px;top:1242.6px;width:2px;height:22.8px;background:#4a4a4a"></div>
<div class="a" style="left:2851.0px;top:1242.6px;width:2px;height:22.8px;background:#4a4a4a"></div>
<div class="tc" style="left:1072.5px;width:800px;text-align:center;top:1246.9px;font-size:15px;"><span style="display:inline-block;transform:scaleX(1.6)">OSA</span></div>
<div class="tc" style="left:1623.0px;width:800px;text-align:center;top:1246.9px;font-size:15px;"><span style="display:inline-block;transform:scaleX(1.6)">3.43</span></div>
<div class="tc" style="left:2155.5px;width:800px;text-align:center;top:1246.9px;font-size:15px;"><span style="display:inline-block;transform:scaleX(1.6)">4.83</span></div>
<div class="tc" style="left:2638.0px;width:800px;text-align:center;top:1246.9px;font-size:15px;"><span style="display:inline-block;transform:scaleX(1.6)">0.0543</span></div>
<div class="tc" style="left:1791.0px;width:800px;text-align:center;top:1269.8px;font-size:15px;font-weight:700;color:#303030;"><span style="display:inline-block;transform:scaleX(1.43)">HOSPITAL CHARACTERISTICS</span></div>
<div class="a" style="left:1786.0px;top:1288.5px;width:2px;height:23.1px;background:#4a4a4a"></div>
<div class="a" style="left:2258.0px;top:1288.5px;width:2px;height:23.1px;background:#4a4a4a"></div>
<div class="a" style="left:2851.0px;top:1288.5px;width:2px;height:23.1px;background:#4a4a4a"></div>
<div class="tc" style="left:1072.5px;width:800px;text-align:center;top:1292.9px;font-size:15px;font-weight:700;color:#303030;"><span style="display:inline-block;transform:scaleX(1.5)">Hospital Bed-size</span></div>
<div class="tc" style="left:2638.0px;width:800px;text-align:center;top:1292.9px;font-size:15px;"><span style="display:inline-block;transform:scaleX(1.6)">0.1311</span></div>
<div class="a" style="left:1786.0px;top:1311.5px;width:2px;height:23.1px;background:#4a4a4a"></div>
<div class="a" style="left:2258.0px;top:1311.5px;width:2px;height:23.1px;background:#4a4a4a"></div>
<div class="a" style="left:2851.0px;top:1311.5px;width:2px;height:23.1px;background:#4a4a4a"></div>
<div class="tc" style="left:1072.5px;width:800px;text-align:center;top:1315.9px;font-size:15px;"><span style="display:inline-block;transform:scaleX(1.6)">Small</span></div>
<div class="tc" style="left:1623.0px;width:800px;text-align:center;top:1315.9px;font-size:15px;"><span style="display:inline-block;transform:scaleX(1.6)">15.7</span></div>
<div class="tc" style="left:2155.5px;width:800px;text-align:center;top:1315.9px;font-size:15px;"><span style="display:inline-block;transform:scaleX(1.6)">13.97</span></div>
<div class="a" style="left:1786.0px;top:1334.6px;width:2px;height:23.1px;background:#4a4a4a"></div>
<div class="a" style="left:2258.0px;top:1334.6px;width:2px;height:23.1px;background:#4a4a4a"></div>
<div class="a" style="left:2851.0px;top:1334.6px;width:2px;height:23.1px;background:#4a4a4a"></div>
<div class="tc" style="left:1072.5px;width:800px;text-align:center;top:1339.0px;font-size:15px;"><span style="display:inline-block;transform:scaleX(1.6)">Medium</span></div>
<div class="tc" style="left:1623.0px;width:800px;text-align:center;top:1339.0px;font-size:15px;"><span style="display:inline-block;transform:scaleX(1.6)">23.5</span></div>
<div class="tc" style="left:2155.5px;width:800px;text-align:center;top:1339.0px;font-size:15px;"><span style="display:inline-block;transform:scaleX(1.6)">26.5</span></div>
<div class="a" style="left:1786.0px;top:1357.6px;width:2px;height:23.1px;background:#4a4a4a"></div>
<div class="a" style="left:2258.0px;top:1357.6px;width:2px;height:23.1px;background:#4a4a4a"></div>
<div class="a" style="left:2851.0px;top:1357.6px;width:2px;height:23.1px;background:#4a4a4a"></div>
<div class="tc" style="left:1072.5px;width:800px;text-align:center;top:1362.1px;font-size:15px;"><span style="display:inline-block;transform:scaleX(1.6)">Large</span></div>
<div class="tc" style="left:1623.0px;width:800px;text-align:center;top:1362.1px;font-size:15px;"><span style="display:inline-block;transform:scaleX(1.6)">60.81</span></div>
<div class="tc" style="left:2155.5px;width:800px;text-align:center;top:1362.1px;font-size:15px;"><span style="display:inline-block;transform:scaleX(1.6)">59.53</span></div>
<div class="a" style="left:1786.0px;top:1380.7px;width:2px;height:23.1px;background:#4a4a4a"></div>
<div class="a" style="left:2258.0px;top:1380.7px;width:2px;height:23.1px;background:#4a4a4a"></div>
<div class="a" style="left:2851.0px;top:1380.7px;width:2px;height:23.1px;background:#4a4a4a"></div>
<div class="tc" style="left:1072.5px;width:800px;text-align:center;top:1385.1px;font-size:15px;font-weight:700;color:#303030;"><span style="display:inline-block;transform:scaleX(1.5)">Hospital Region</span></div>
<div class="tc" style="left:2638.0px;width:800px;text-align:center;top:1385.1px;font-size:15px;"><span style="display:inline-block;transform:scaleX(1.6)">0.0006</span></div>
<div class="a" style="left:1786.0px;top:1403.8px;width:2px;height:23.1px;background:#4a4a4a"></div>
<div class="a" style="left:2258.0px;top:1403.8px;width:2px;height:23.1px;background:#4a4a4a"></div>
<div class="a" style="left:2851.0px;top:1403.8px;width:2px;height:23.1px;background:#4a4a4a"></div>
<div class="tc" style="left:1072.5px;width:800px;text-align:center;top:1408.2px;font-size:15px;"><span style="display:inline-block;transform:scaleX(1.6)">Northeast</span></div>
<div class="tc" style="left:1623.0px;width:800px;text-align:center;top:1408.2px;font-size:15px;"><span style="display:inline-block;transform:scaleX(1.6)">23.03</span></div>
<div class="tc" style="left:2155.5px;width:800px;text-align:center;top:1408.2px;font-size:15px;"><span style="display:inline-block;transform:scaleX(1.6)">16.93</span></div>
<div class="a" style="left:1786.0px;top:1426.8px;width:2px;height:23.1px;background:#4a4a4a"></div>
<div class="a" style="left:2258.0px;top:1426.8px;width:2px;height:23.1px;background:#4a4a4a"></div>
<div class="a" style="left:2851.0px;top:1426.8px;width:2px;height:23.1px;background:#4a4a4a"></div>
<div class="tc" style="left:1072.5px;width:800px;text-align:center;top:1431.2px;font-size:15px;"><span style="display:inline-block;transform:scaleX(1.6)">Midwest</span></div>
<div class="tc" style="left:1623.0px;width:800px;text-align:center;top:1431.2px;font-size:15px;"><span style="display:inline-block;transform:scaleX(1.6)">28.1</span></div>
<div class="tc" style="left:2155.5px;width:800px;text-align:center;top:1431.2px;font-size:15px;"><span style="display:inline-block;transform:scaleX(1.6)">32.51</span></div>
<div class="a" style="left:1786.0px;top:1449.9px;width:2px;height:23.1px;background:#4a4a4a"></div>
<div class="a" style="left:2258.0px;top:1449.9px;width:2px;height:23.1px;background:#4a4a4a"></div>
<div class="a" style="left:2851.0px;top:1449.9px;width:2px;height:23.1px;background:#4a4a4a"></div>
<div class="tc" style="left:1072.5px;width:800px;text-align:center;top:1454.3px;font-size:15px;"><span style="display:inline-block;transform:scaleX(1.6)">South</span></div>
<div class="tc" style="left:1623.0px;width:800px;text-align:center;top:1454.3px;font-size:15px;"><span style="display:inline-block;transform:scaleX(1.6)">27.35</span></div>
<div class="tc" style="left:2155.5px;width:800px;text-align:center;top:1454.3px;font-size:15px;"><span style="display:inline-block;transform:scaleX(1.6)">29.72</span></div>
<div class="a" style="left:1786.0px;top:1472.9px;width:2px;height:23.1px;background:#4a4a4a"></div>
<div class="a" style="left:2258.0px;top:1472.9px;width:2px;height:23.1px;background:#4a4a4a"></div>
<div class="a" style="left:2851.0px;top:1472.9px;width:2px;height:23.1px;background:#4a4a4a"></div>
<div class="tc" style="left:1072.5px;width:800px;text-align:center;top:1477.4px;font-size:15px;"><span style="display:inline-block;transform:scaleX(1.6)">West</span></div>
<div class="tc" style="left:1623.0px;width:800px;text-align:center;top:1477.4px;font-size:15px;"><span style="display:inline-block;transform:scaleX(1.6)">21.52</span></div>
<div class="tc" style="left:2155.5px;width:800px;text-align:center;top:1477.4px;font-size:15px;"><span style="display:inline-block;transform:scaleX(1.6)">20.83</span></div>
<div class="a" style="left:1786.0px;top:1496.0px;width:2px;height:23.1px;background:#4a4a4a"></div>
<div class="a" style="left:2258.0px;top:1496.0px;width:2px;height:23.1px;background:#4a4a4a"></div>
<div class="a" style="left:2851.0px;top:1496.0px;width:2px;height:23.1px;background:#4a4a4a"></div>
<div class="tc" style="left:1072.5px;width:800px;text-align:center;top:1500.4px;font-size:15px;font-weight:700;color:#303030;"><span style="display:inline-block;transform:scaleX(1.5)">Hospital Teaching Status</span></div>
<div class="tc" style="left:2638.0px;width:800px;text-align:center;top:1500.4px;font-size:15px;"><span style="display:inline-block;transform:scaleX(1.6)">0.0171</span></div>
<div class="a" style="left:1786.0px;top:1519.0px;width:2px;height:23.1px;background:#4a4a4a"></div>
<div class="a" style="left:2258.0px;top:1519.0px;width:2px;height:23.1px;background:#4a4a4a"></div>
<div class="a" style="left:2851.0px;top:1519.0px;width:2px;height:23.1px;background:#4a4a4a"></div>
<div class="tc" style="left:1072.5px;width:800px;text-align:center;top:1523.5px;font-size:15px;"><span style="display:inline-block;transform:scaleX(1.6)">Rural</span></div>
<div class="tc" style="left:1623.0px;width:800px;text-align:center;top:1523.5px;font-size:15px;"><span style="display:inline-block;transform:scaleX(1.6)">4.51</span></div>
<div class="tc" style="left:2155.5px;width:800px;text-align:center;top:1523.5px;font-size:15px;"><span style="display:inline-block;transform:scaleX(1.6)">3.81</span></div>
<div class="a" style="left:1786.0px;top:1542.1px;width:2px;height:22.9px;background:#4a4a4a"></div>
<div class="a" style="left:2258.0px;top:1542.1px;width:2px;height:22.9px;background:#4a4a4a"></div>
<div class="a" style="left:2851.0px;top:1542.1px;width:2px;height:22.9px;background:#4a4a4a"></div>
<div class="tc" style="left:1072.5px;width:800px;text-align:center;top:1546.5px;font-size:15px;"><span style="display:inline-block;transform:scaleX(1.6)">Urban non-teaching</span></div>
<div class="tc" style="left:1623.0px;width:800px;text-align:center;top:1546.5px;font-size:15px;"><span style="display:inline-block;transform:scaleX(1.6)">14.14</span></div>
<div class="tc" style="left:2155.5px;width:800px;text-align:center;top:1546.5px;font-size:15px;"><span style="display:inline-block;transform:scaleX(1.6)">17.87</span></div>
<div class="a" style="left:1786.0px;top:1565.0px;width:2px;height:22.9px;background:#4a4a4a"></div>
<div class="a" style="left:2258.0px;top:1565.0px;width:2px;height:22.9px;background:#4a4a4a"></div>
<div class="a" style="left:2851.0px;top:1565.0px;width:2px;height:22.9px;background:#4a4a4a"></div>
<div class="tc" style="left:1072.5px;width:800px;text-align:center;top:1569.4px;font-size:15px;"><span style="display:inline-block;transform:scaleX(1.6)">Urban teaching</span></div>
<div class="tc" style="left:1623.0px;width:800px;text-align:center;top:1569.4px;font-size:15px;"><span style="display:inline-block;transform:scaleX(1.6)">81.34</span></div>
<div class="tc" style="left:2155.5px;width:800px;text-align:center;top:1569.4px;font-size:15px;"><span style="display:inline-block;transform:scaleX(1.6)">78.32</span></div>
<div class="a" style="left:1786.0px;top:1587.9px;width:2px;height:29.8px;background:#4a4a4a"></div>
<div class="a" style="left:2258.0px;top:1587.9px;width:2px;height:29.8px;background:#4a4a4a"></div>
<div class="a" style="left:2851.0px;top:1587.9px;width:2px;height:29.8px;background:#4a4a4a"></div>
<div class="tc" style="left:1072.5px;width:800px;text-align:center;top:1592.3px;font-size:15px;font-weight:700;color:#303030;"><span style="display:inline-block;transform:scaleX(1.5)">Hospital Location</span></div>
<div class="tc" style="left:2638.0px;width:800px;text-align:center;top:1592.3px;font-size:15px;"><span style="display:inline-block;transform:scaleX(1.6)">0.1659</span></div>
<div class="a" style="left:1786.0px;top:1617.7px;width:2px;height:22.9px;background:#4a4a4a"></div>
<div class="a" style="left:2258.0px;top:1617.7px;width:2px;height:22.9px;background:#4a4a4a"></div>
<div class="a" style="left:2851.0px;top:1617.7px;width:2px;height:22.9px;background:#4a4a4a"></div>
<div class="tc" style="left:1072.5px;width:800px;text-align:center;top:1622.1px;font-size:15px;"><span style="display:inline-block;transform:scaleX(1.6)">Rural</span></div>
<div class="tc" style="left:1623.0px;width:800px;text-align:center;top:1622.1px;font-size:15px;"><span style="display:inline-block;transform:scaleX(1.6)">4.7</span></div>
<div class="tc" style="left:2155.5px;width:800px;text-align:center;top:1622.1px;font-size:15px;"><span style="display:inline-block;transform:scaleX(1.6)">3.5</span></div>
<div class="a" style="left:1786.0px;top:1640.6px;width:2px;height:22.9px;background:#4a4a4a"></div>
<div class="a" style="left:2258.0px;top:1640.6px;width:2px;height:22.9px;background:#4a4a4a"></div>
<div class="a" style="left:2851.0px;top:1640.6px;width:2px;height:22.9px;background:#4a4a4a"></div>
<div class="tc" style="left:1072.5px;width:800px;text-align:center;top:1645.0px;font-size:15px;"><span style="display:inline-block;transform:scaleX(1.6)">Urban</span></div>
<div class="tc" style="left:1623.0px;width:800px;text-align:center;top:1645.0px;font-size:15px;"><span style="display:inline-block;transform:scaleX(1.6)">95.3</span></div>
<div class="tc" style="left:2155.5px;width:800px;text-align:center;top:1645.0px;font-size:15px;"><span style="display:inline-block;transform:scaleX(1.6)">96.5</span></div>
<div class="a" style="left:1786.0px;top:1663.5px;width:2px;height:22.9px;background:#4a4a4a"></div>
<div class="a" style="left:2258.0px;top:1663.5px;width:2px;height:22.9px;background:#4a4a4a"></div>
<div class="a" style="left:2851.0px;top:1663.5px;width:2px;height:22.9px;background:#4a4a4a"></div>
<div class="tc" style="left:1072.5px;width:800px;text-align:center;top:1667.9px;font-size:15px;"><span style="display:inline-block;transform:scaleX(1.6)"></span></div>
<div class="a" style="left:2851.0px;top:1686.4px;width:2px;height:23.3px;background:#4a4a4a"></div>
<div class="tc" style="left:1605.0px;width:800px;text-align:center;top:1691.0px;font-size:15px;font-weight:700;color:#303030;"><span style="display:inline-block;transform:scaleX(1.45)">CHARLSON COMORBIDITY INDEX SCORE</span></div>
<div class="tc" style="left:2638.0px;width:800px;text-align:center;top:1691.0px;font-size:15px;"><span style="display:inline-block;transform:scaleX(1.6)">0.4368</span></div>
<div class="a" style="left:1786.0px;top:1709.7px;width:2px;height:22.9px;background:#4a4a4a"></div>
<div class="a" style="left:2258.0px;top:1709.7px;width:2px;height:22.9px;background:#4a4a4a"></div>
<div class="a" style="left:2851.0px;top:1709.7px;width:2px;height:22.9px;background:#4a4a4a"></div>
<div class="tc" style="left:1072.5px;width:800px;text-align:center;top:1714.1px;font-size:15px;"><span style="display:inline-block;transform:scaleX(1.6)">1</span></div>
<div class="tc" style="left:1623.0px;width:800px;text-align:center;top:1714.1px;font-size:15px;"><span style="display:inline-block;transform:scaleX(1.6)">15.74</span></div>
<div class="tc" style="left:2155.5px;width:800px;text-align:center;top:1714.1px;font-size:15px;"><span style="display:inline-block;transform:scaleX(1.6)">14.9</span></div>
<div class="a" style="left:1786.0px;top:1732.6px;width:2px;height:23.4px;background:#4a4a4a"></div>
<div class="a" style="left:2258.0px;top:1732.6px;width:2px;height:23.4px;background:#4a4a4a"></div>
<div class="a" style="left:2851.0px;top:1732.6px;width:2px;height:23.4px;background:#4a4a4a"></div>
<div class="tc" style="left:1072.5px;width:800px;text-align:center;top:1737.2px;font-size:15px;"><span style="display:inline-block;transform:scaleX(1.6)">2</span></div>
<div class="tc" style="left:1623.0px;width:800px;text-align:center;top:1737.2px;font-size:15px;"><span style="display:inline-block;transform:scaleX(1.6)">20.1</span></div>
<div class="tc" style="left:2155.5px;width:800px;text-align:center;top:1737.2px;font-size:15px;"><span style="display:inline-block;transform:scaleX(1.6)">20.66</span></div>
<div class="a" style="left:1786.0px;top:1756.0px;width:2px;height:22.4px;background:#4a4a4a"></div>
<div class="a" style="left:2258.0px;top:1756.0px;width:2px;height:22.4px;background:#4a4a4a"></div>
<div class="a" style="left:2851.0px;top:1756.0px;width:2px;height:22.4px;background:#4a4a4a"></div>
<div class="tc" style="left:1072.5px;width:800px;text-align:center;top:1760.1px;font-size:15px;"><span style="display:inline-block;transform:scaleX(1.6)">&#8805;3</span></div>
<div class="tc" style="left:1623.0px;width:800px;text-align:center;top:1760.1px;font-size:15px;"><span style="display:inline-block;transform:scaleX(1.6)">59.12</span></div>
<div class="tc" style="left:2155.5px;width:800px;text-align:center;top:1760.1px;font-size:15px;"><span style="display:inline-block;transform:scaleX(1.6)">60.46</span></div>
<div class="a" style="left:1157.0px;top:421.0px;width:2px;height:1357.4px;background:#3a3a3a"></div>
<div class="a" style="left:3223.0px;top:421.0px;width:2px;height:1357.4px;background:#3a3a3a"></div>
<div class="a" style="left:1152px;top:488px;width:5.5px;height:39px;background:#ff0000"></div>
<div class="t" style="left:1178.8px;top:1784.6px;font-size:22px;line-height:1;font-weight:700;color:#111;"><span style="display:inline-block;transform-origin:0 0;transform:scaleX(1.523)">Table 1A shows baseline characteristics and comorbidities.</span></div>
<div class="a" style="left:1178.3px;top:1828.1px;width:1777.7px;height:2px;background:#555;box-shadow:0 1.5px 0 #cfcfcf"></div>
<div class="a" style="left:1178.3px;top:1874.1px;width:1777.7px;height:2px;background:#727272;box-shadow:0 1.5px 0 #cfcfcf"></div>
<div class="a" style="left:1178.3px;top:1897.3px;width:1777.7px;height:2px;background:#727272;box-shadow:0 1.5px 0 #cfcfcf"></div>
<div class="a" style="left:1178.3px;top:1920.1px;width:1777.7px;height:2px;background:#727272;box-shadow:0 1.5px 0 #cfcfcf"></div>
<div class="a" style="left:1178.3px;top:1943.3px;width:1777.7px;height:2px;background:#727272;box-shadow:0 1.5px 0 #cfcfcf"></div>
<div class="a" style="left:1178.3px;top:1966.5px;width:1777.7px;height:2px;background:#727272;box-shadow:0 1.5px 0 #cfcfcf"></div>
<div class="a" style="left:1178.3px;top:1989.2px;width:1777.7px;height:2px;background:#727272;box-shadow:0 1.5px 0 #cfcfcf"></div>
<div class="a" style="left:1178.3px;top:2012.0px;width:1777.7px;height:2px;background:#727272;box-shadow:0 1.5px 0 #cfcfcf"></div>
<div class="a" style="left:1178.3px;top:2034.8px;width:1777.7px;height:2px;background:#727272;box-shadow:0 1.5px 0 #cfcfcf"></div>
<div class="a" style="left:1178.3px;top:2078.8px;width:1777.7px;height:2px;background:#727272;box-shadow:0 1.5px 0 #cfcfcf"></div>
<div class="a" style="left:1178.3px;top:2124.3px;width:1777.7px;height:2px;background:#727272;box-shadow:0 1.5px 0 #cfcfcf"></div>
<div class="a" style="left:1178.3px;top:2147.5px;width:1777.7px;height:2px;background:#727272;box-shadow:0 1.5px 0 #cfcfcf"></div>
<div class="a" style="left:2168.1px;top:1852.7px;width:787.9px;height:2px;background:#727272;box-shadow:0 1.5px 0 #cfcfcf"></div>
<div class="a" style="left:1178.3px;top:2169.5px;width:1777.7px;height:2px;background:#555;box-shadow:0 1.5px 0 #cfcfcf"></div>
<div class="a" style="left:1532.1px;top:1829.1px;width:2px;height:341.4px;background:#4a4a4a"></div>
<div class="a" style="left:1842.5px;top:1829.1px;width:2px;height:341.4px;background:#4a4a4a"></div>
<div class="a" style="left:2167.1px;top:1829.1px;width:2px;height:341.4px;background:#4a4a4a"></div>
<div class="a" style="left:2560.8px;top:1853.7px;width:2px;height:316.8px;background:#4a4a4a"></div>
<div class="a" style="left:1177.3px;top:1829.1px;width:2px;height:341.4px;background:#3a3a3a"></div>
<div class="a" style="left:2955.0px;top:1829.1px;width:2px;height:341.4px;background:#3a3a3a"></div>
<div class="tc" style="left:1200.7px;top:1834.4px;font-size:15.4px;transform-origin:0 0;transform:scaleX(1.5);font-weight:700;color:#303030;">Variable</div>
<div class="tc" style="left:1554.7px;top:1834.4px;font-size:15.4px;transform-origin:0 0;transform:scaleX(1.47);font-weight:700;color:#303030;">Severe (%)</div>
<div class="tc" style="left:1605.8px;width:800px;text-align:center;top:1834.4px;font-size:15.4px;font-weight:700"><span style="display:inline-block;transform:scaleX(1.55)">Mild-Moderate (%)</span></div>
<div class="tc" style="left:2191.0px;top:1833.5px;font-size:15.4px;transform-origin:0 0;transform:scaleX(1.46);font-weight:700;color:#303030;">Regression analysis, OR (95% CI) P-value</div>
<div class="tc" style="left:2191.0px;top:1856.5px;font-size:15.4px;transform-origin:0 0;transform:scaleX(1.5);font-weight:700;color:#303030;">Univariate regression</div>
<div class="tc" style="left:2585.2px;top:1856.5px;font-size:15.4px;transform-origin:0 0;transform:scaleX(1.5);font-weight:700;color:#303030;">Multivariate regression</div>
<div class="tc" style="left:1200.7px;top:1880.1px;font-size:15.4px;transform-origin:0 0;transform:scaleX(1.52);font-weight:700;color:#303030;">Mortality</div>
<div class="tc" style="left:1554.7px;top:1880.1px;font-size:15.4px;transform-origin:0 0;transform:scaleX(1.57);color:#ee2a2e;">14.5</div>
<div class="tc" style="left:1866.7px;top:1880.1px;font-size:15.4px;transform-origin:0 0;transform:scaleX(1.57);color:#ee2a2e;">10.2</div>
<div class="tc" style="left:2191.0px;top:1880.1px;font-size:15.4px;transform-origin:0 0;transform:scaleX(1.57);color:#ee2a2e;">1.50 (1.19-1.89) 0.001</div>
<div class="tc" style="left:2585.2px;top:1880.1px;font-size:15.4px;transform-origin:0 0;transform:scaleX(1.57);color:#ee2a2e;">1.53 (1.12-2.07) 0.006</div>
<div class="tc" style="left:1200.7px;top:1903.3px;font-size:15.4px;transform-origin:0 0;transform:scaleX(1.52);font-weight:700;color:#303030;">Cardiac arrest</div>
<div class="tc" style="left:1554.7px;top:1903.3px;font-size:15.4px;transform-origin:0 0;transform:scaleX(1.57);">3.9</div>
<div class="tc" style="left:1866.7px;top:1903.3px;font-size:15.4px;transform-origin:0 0;transform:scaleX(1.57);">4.98</div>
<div class="tc" style="left:2191.0px;top:1903.3px;font-size:15.4px;transform-origin:0 0;transform:scaleX(1.57);">0.78 (0.55-1.11) 0.169</div>
<div class="tc" style="left:2585.2px;top:1903.3px;font-size:15.4px;transform-origin:0 0;transform:scaleX(1.57);">0.69 (0.44-1.06) 0.090</div>
<div class="tc" style="left:1200.7px;top:1926.1px;font-size:15.4px;transform-origin:0 0;transform:scaleX(1.52);font-weight:700;color:#303030;">Cardiogenic shock</div>
<div class="tc" style="left:1554.7px;top:1926.1px;font-size:15.4px;transform-origin:0 0;transform:scaleX(1.57);">10.3</div>
<div class="tc" style="left:1866.7px;top:1926.1px;font-size:15.4px;transform-origin:0 0;transform:scaleX(1.57);">10</div>
<div class="tc" style="left:2191.0px;top:1926.1px;font-size:15.4px;transform-origin:0 0;transform:scaleX(1.57);">1.03 (0.81-1.31) 0.786</div>
<div class="tc" style="left:2585.2px;top:1926.1px;font-size:15.4px;transform-origin:0 0;transform:scaleX(1.57);">0.90 (0.67-1.22) 0.514</div>
<div class="tc" style="left:1200.7px;top:1949.3px;font-size:15.4px;transform-origin:0 0;transform:scaleX(1.52);font-weight:700;color:#303030;">Respiratory failure</div>
<div class="tc" style="left:1554.7px;top:1949.3px;font-size:15.4px;transform-origin:0 0;transform:scaleX(1.57);">34.7</div>
<div class="tc" style="left:1866.7px;top:1949.3px;font-size:15.4px;transform-origin:0 0;transform:scaleX(1.57);">33.4</div>
<div class="tc" style="left:2191.0px;top:1949.3px;font-size:15.4px;transform-origin:0 0;transform:scaleX(1.57);">1.06 (0.91-1.23) 0.447</div>
<div class="tc" style="left:2585.2px;top:1949.3px;font-size:15.4px;transform-origin:0 0;transform:scaleX(1.57);">0.94 (0.77-1.14) 0.514</div>
<div class="tc" style="left:1200.7px;top:1972.5px;font-size:15.4px;transform-origin:0 0;transform:scaleX(1.52);font-weight:700;color:#303030;">Mechanical ventilation</div>
<div class="tc" style="left:1554.7px;top:1972.5px;font-size:15.4px;transform-origin:0 0;transform:scaleX(1.57);">2.6</div>
<div class="tc" style="left:1866.7px;top:1972.5px;font-size:15.4px;transform-origin:0 0;transform:scaleX(1.57);">2.1</div>
<div class="tc" style="left:2191.0px;top:1972.5px;font-size:15.4px;transform-origin:0 0;transform:scaleX(1.57);">1.22 (0.75-2.01) 0.418</div>
<div class="tc" style="left:2585.2px;top:1972.5px;font-size:15.4px;transform-origin:0 0;transform:scaleX(1.57);">0.99 (0.56-1.75) 0.971</div>
<div class="tc" style="left:1200.7px;top:1995.2px;font-size:15.4px;transform-origin:0 0;transform:scaleX(1.52);font-weight:700;color:#303030;">NSTEMI</div>
<div class="tc" style="left:1554.7px;top:1995.2px;font-size:15.4px;transform-origin:0 0;transform:scaleX(1.57);">11.8</div>
<div class="tc" style="left:1866.7px;top:1995.2px;font-size:15.4px;transform-origin:0 0;transform:scaleX(1.57);">11.9</div>
<div class="tc" style="left:2191.0px;top:1995.2px;font-size:15.4px;transform-origin:0 0;transform:scaleX(1.57);">0.99 (0.79-1.23) 0.903</div>
<div class="tc" style="left:2585.2px;top:1995.2px;font-size:15.4px;transform-origin:0 0;transform:scaleX(1.57);">1.04 (0.79-1.37) 0.766</div>
<div class="tc" style="left:1200.7px;top:2018.0px;font-size:15.4px;transform-origin:0 0;transform:scaleX(1.52);font-weight:700;color:#303030;">Acute kidney injury</div>
<div class="tc" style="left:1554.7px;top:2018.0px;font-size:15.4px;transform-origin:0 0;transform:scaleX(1.57);">36.27</div>
<div class="tc" style="left:1866.7px;top:2018.0px;font-size:15.4px;transform-origin:0 0;transform:scaleX(1.57);">33.53</div>
<div class="tc" style="left:2191.0px;top:2018.0px;font-size:15.4px;transform-origin:0 0;transform:scaleX(1.57);">1.12 (0.97-1.31) 0.118</div>
<div class="tc" style="left:2585.2px;top:2018.0px;font-size:15.4px;transform-origin:0 0;transform:scaleX(1.57);">1.00 (0.82-1.22) 0.966</div>
<div class="tc" style="left:1200.7px;top:2040.8px;font-size:15.4px;transform-origin:0 0;transform:scaleX(1.52);font-weight:700;color:#303030;">Vasopressor</div>
<div class="tc" style="left:1554.7px;top:2040.8px;font-size:15.4px;transform-origin:0 0;transform:scaleX(1.57);">10.1</div>
<div class="tc" style="left:1866.7px;top:2040.8px;font-size:15.4px;transform-origin:0 0;transform:scaleX(1.57);">8.2</div>
<div class="tc" style="left:2191.0px;top:2040.8px;font-size:15.4px;transform-origin:0 0;transform:scaleX(1.57);">1.26 (0.98-1.62)</div>
<div class="tc" style="left:2191.0px;top:2063.2px;font-size:15.4px;transform-origin:0 0;transform:scaleX(1.57);">0.077</div>
<div class="tc" style="left:2585.2px;top:2040.8px;font-size:15.4px;transform-origin:0 0;transform:scaleX(1.57);">1.19 (0.85-1.68)</div>
<div class="tc" style="left:2585.2px;top:2063.2px;font-size:15.4px;transform-origin:0 0;transform:scaleX(1.57);">0.306</div>
<div class="tc" style="left:1200.7px;top:2084.8px;font-size:15.4px;transform-origin:0 0;transform:scaleX(1.52);font-weight:700;color:#303030;">Palliative Consult</div>
<div class="tc" style="left:1554.7px;top:2084.8px;font-size:15.4px;transform-origin:0 0;transform:scaleX(1.57);color:#ee2a2e;">15.6</div>
<div class="tc" style="left:1866.7px;top:2084.8px;font-size:15.4px;transform-origin:0 0;transform:scaleX(1.57);color:#ee2a2e;">10.9</div>
<div class="tc" style="left:2191.0px;top:2084.8px;font-size:15.4px;transform-origin:0 0;transform:scaleX(1.57);color:#ee2a2e;">1.51 (1.21-1.89)</div>
<div class="tc" style="left:2191.0px;top:2107.2px;font-size:15.4px;transform-origin:0 0;transform:scaleX(1.57);color:#ee2a2e;">0.000</div>
<div class="tc" style="left:2585.2px;top:2084.8px;font-size:15.4px;transform-origin:0 0;transform:scaleX(1.57);color:#ee2a2e;">1.74 (1.29-2.34)</div>
<div class="tc" style="left:2585.2px;top:2107.2px;font-size:15.4px;transform-origin:0 0;transform:scaleX(1.57);color:#ee2a2e;">0.000</div>
<div class="tc" style="left:1200.7px;top:2130.3px;font-size:15.4px;transform-origin:0 0;transform:scaleX(1.52);font-weight:700;color:#303030;">Length of stay</div>
<div class="tc" style="left:1554.7px;top:2130.3px;font-size:15.4px;transform-origin:0 0;transform:scaleX(1.57);">15.34 &#177; 17.51</div>
<div class="tc" style="left:1866.7px;top:2130.3px;font-size:15.4px;transform-origin:0 0;transform:scaleX(1.57);">12.9 &#177; 14.07</div>
<div class="tc" style="left:1200.7px;top:2153.5px;font-size:15.4px;transform-origin:0 0;transform:scaleX(1.52);font-weight:700;color:#303030;">Total hospital charge</div>
<div class="tc" style="left:1554.7px;top:2153.5px;font-size:15.4px;transform-origin:0 0;transform:scaleX(1.57);">215,441.9 &#177; 366,069.6</div>
<div class="tc" style="left:1866.7px;top:2153.5px;font-size:15.4px;transform-origin:0 0;transform:scaleX(1.57);">188,171.6 &#177; 291,660.8</div>
<div class="t" style="left:1179.5px;top:2175.9px;font-size:22px;line-height:1;font-weight:700;color:#111;"><span style="display:inline-block;transform-origin:0 0;transform:scaleX(1.524)">Table 1B shows primary and secondary outcomes.</span></div>
<div class="t" style="left:967.5px;top:2209.4px;font-size:90px;line-height:1;font-family:'Liberation Serif','Times New Roman',serif;letter-spacing:4.1px;">ENGLEWOOD</div>
<div class="t" style="left:1074.2px;top:2294.1px;font-size:90px;line-height:1;font-family:'Liberation Serif','Times New Roman',serif;letter-spacing:8.15px;">HEALTH</div>
<div class="a" style="left:1645px;top:2227px;width:5px;height:142.5px;background:#111"></div>
<div class="t" style="left:1907.8px;top:2242.2px;font-size:51px;line-height:1;font-family:'Liberation Serif','Times New Roman',serif;color:#4a4a4f;letter-spacing:0.76px;-webkit-text-stroke:0.7px #4a4a4f;">Hackensack Meridian</div>
<div class="t" style="left:1907.5px;top:2300.1px;font-size:49px;line-height:1;font-family:'Liberation Serif','Times New Roman',serif;color:#1a72b8;letter-spacing:-1.1px;-webkit-text-stroke:0.7px #1a72b8;">School of Medicine</div>
<svg class="a" style="left:1700px;top:2200px" width="200" height="200" viewBox="0 0 200 200"><polygon points="67.5,13.3 81.7,27.7 64.5,46.2 50.4,31.9" fill="#1475c0"/><rect x="106.7" y="19" width="25.3" height="21.7" fill="#1b4f9c"/><rect x="80.2" y="42" width="24.9" height="20.3" fill="#1b4f9c"/><polygon points="64.3,48.8 78.4,62.4 60.3,80.5 46.8,66.1" fill="#1475c0"/><rect x="17.2" y="55.8" width="21.6" height="25.0" fill="#1db4e6"/><polygon points="121.2,48.8 139.8,66.1 124.8,80.5 107.3,62.7" fill="#2b2f7c"/><polygon points="156.4,51.8 173.8,69.7 159.7,84.1 142,66.1" fill="#2b2f7c"/><rect x="40" y="82.3" width="20.0" height="25.4" fill="#1db4e6"/><rect x="125.4" y="82.3" width="21.4" height="25.0" fill="#1db4e6"/><polygon points="26.8,106.1 44.4,123 30.7,138.4 11.7,120" fill="#2b2f7c"/><polygon points="60.6,109.5 78.6,126.6 64.5,142.3 47,123.6" fill="#2b2f7c"/><rect x="80.2" y="127.4" width="24.9" height="21.5" fill="#1b4f9c"/><polygon points="124.8,109.5 139.8,123 121.2,142 107.3,126.6" fill="#1475c0"/><rect x="148" y="109.1" width="20.2" height="24.7" fill="#1db4e6"/><rect x="53.9" y="150.3" width="25.1" height="20.5" fill="#1b4f9c"/><polygon points="120.9,144.4 136.2,158.2 117.9,176.3 103.9,162.1" fill="#1475c0"/></svg>
</body></html>
